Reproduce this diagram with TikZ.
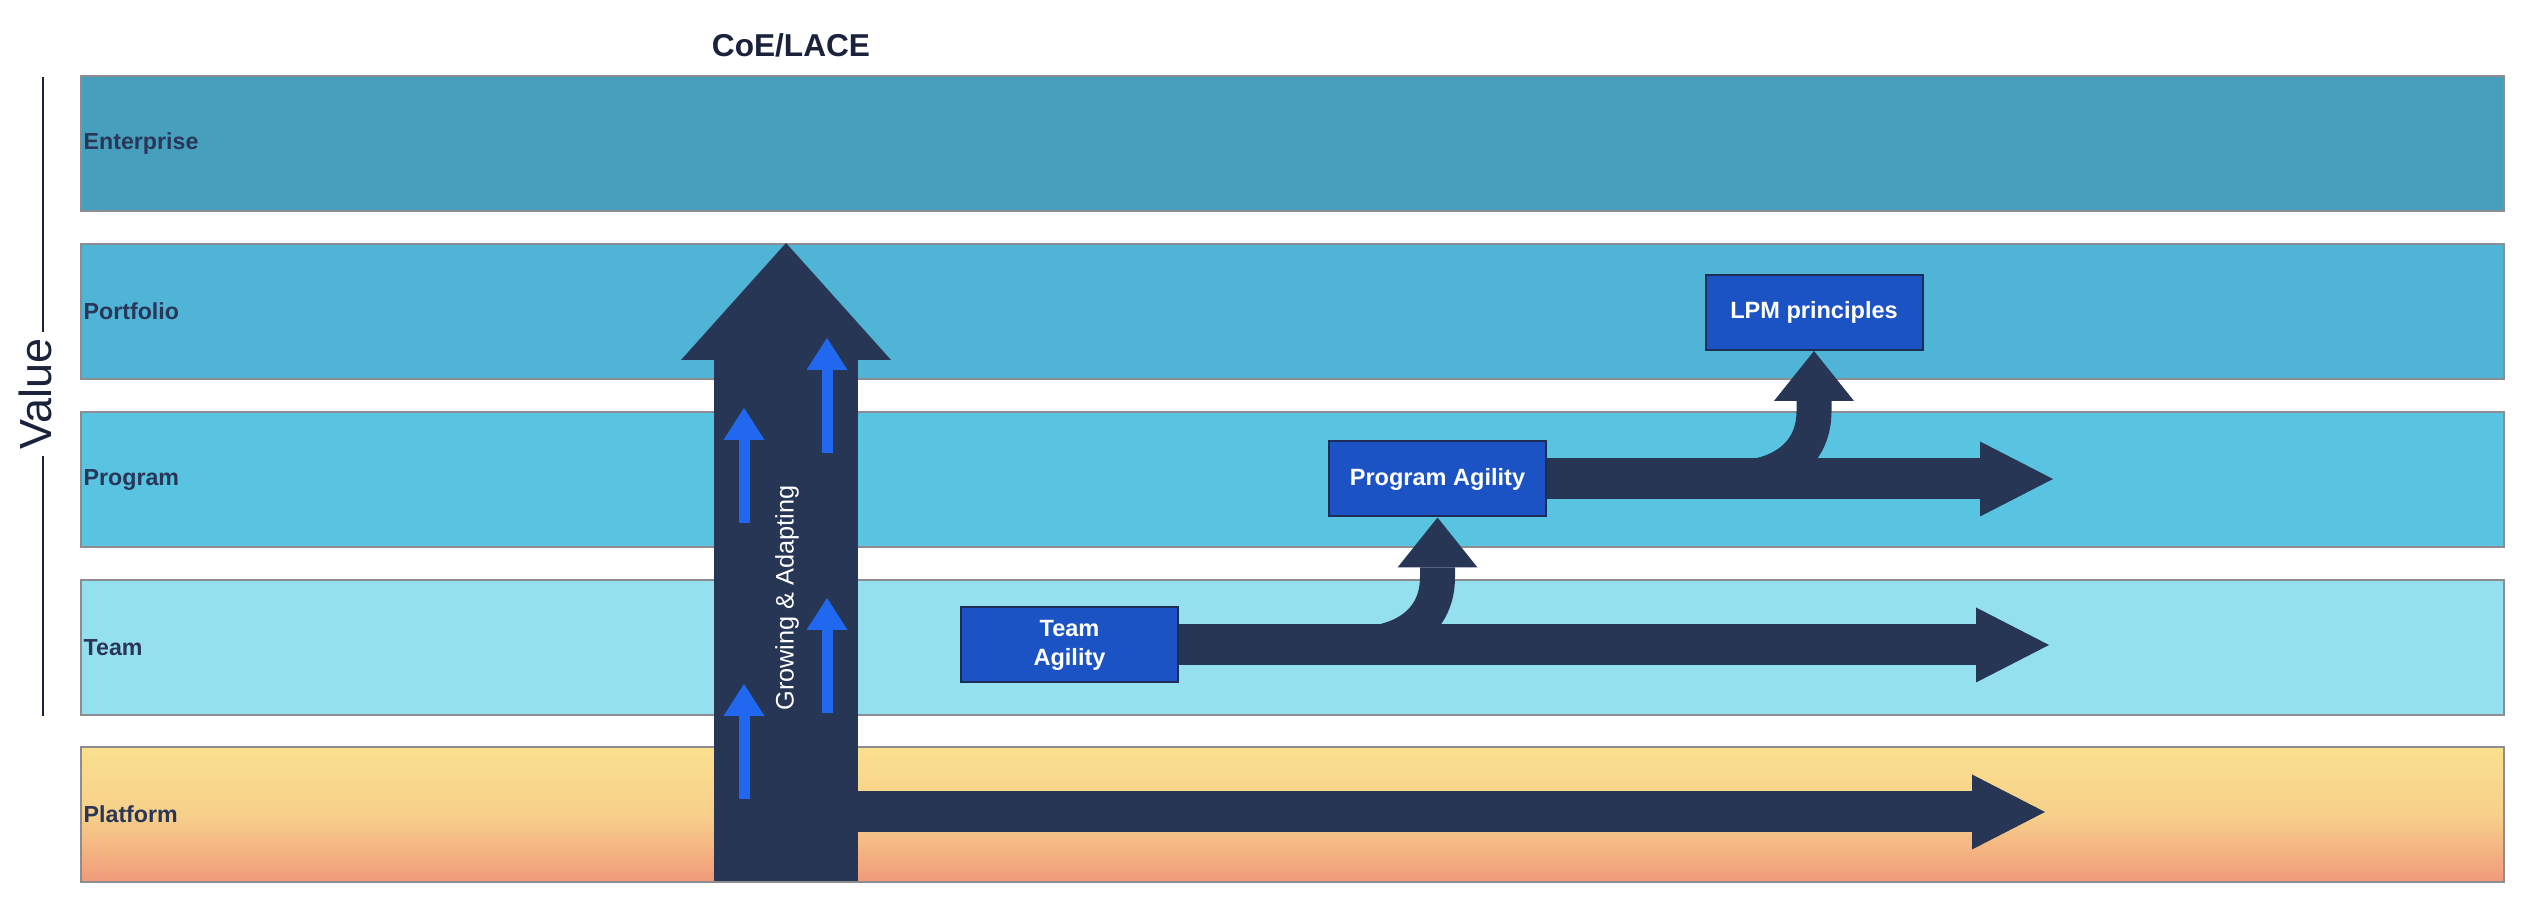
\documentclass[tikz,border=0pt]{standalone}
\usepackage{fontspec}
\setmainfont{Liberation Sans}
\usetikzlibrary{arrows.meta}
\definecolor{enterpriseBand}{RGB}{70,160,189}
\definecolor{portfolioBand}{RGB}{79,180,213}
\definecolor{programBand}{RGB}{89,195,226}
\definecolor{teamBand}{RGB}{148,224,239}
\definecolor{platformTop}{RGB}{250,224,142}
\definecolor{platformMid}{RGB}{247,208,138}
\definecolor{platformBottom}{RGB}{240,154,122}
\definecolor{bandEdge}{RGB}{140,140,145}
\definecolor{arrowNavy}{RGB}{40,54,85}
\definecolor{boxBlue}{RGB}{27,82,196}
\definecolor{boxEdge}{RGB}{30,45,85}
\definecolor{growBlue}{RGB}{33,104,241}
\definecolor{layerInk}{RGB}{42,54,88}
\definecolor{titleInk}{RGB}{26,34,60}

\tikzset{
  band/.style={draw=bandEdge,line width=0.2mm,anchor=north west,minimum width=242.3mm,minimum height=13.5mm,inner sep=0pt},
  layername/.style={anchor=west,inner sep=0.3mm,text=layerInk,font=\bfseries\fontsize{6.6}{8}\selectfont},
  agilitybox/.style={draw=boxEdge,fill=boxBlue,line width=0.2mm,text=white,align=center,minimum width=21.7mm,minimum height=7.5mm,inner sep=0pt,font=\bfseries\fontsize{6.7}{8.25}\selectfont},
  flow/.style={draw=arrowNavy,line width=4.1mm,-{Triangle[length=7.3mm,width=7.5mm,line width=0pt]}},
  riser/.style={draw=arrowNavy,line width=3.5mm,-{Triangle[length=5mm,width=8mm,line width=0pt]}},
  growth/.style={draw=growBlue,line width=1.1mm,-{Triangle[length=3.2mm,width=4.1mm,line width=0pt]}}
}

\begin{document}
\begin{tikzpicture}[x=0.1mm,y=-0.1mm]
  \useasboundingbox (0,0) rectangle (2534,924);

  % Layers
  \node[band,fill=enterpriseBand] (enterprise) at (80,75) {};
  \node[band,fill=portfolioBand] (portfolio) at (80,243) {};
  \node[band,fill=programBand] (program) at (80,411) {};
  \node[band,fill=teamBand] (team) at (80,579) {};
  \node[band,top color=platformTop,bottom color=platformBottom,middle color=platformMid] (platform) at (80,746) {};

  \node[layername] at (enterprise.west) {Enterprise};
  \node[layername] at (portfolio.west) {Portfolio};
  \node[layername] at (program.west) {Program};
  \node[layername] at (team.west) {Team};
  \node[layername] at (platform.west) {Platform};

  % CoE/LACE column
  \coordinate (platstart) at (786,812);
  \coordinate (platend) at (2045,812);
  \draw[flow] (platstart) -- (platend);

  \coordinate (coebottom) at (786,881);
  \coordinate (coetop) at (786,243);
  \draw[draw=arrowNavy,line width=14.4mm,-{Triangle[length=11.7mm,width=21mm,line width=0pt]}] (coebottom) -- (coetop);

  \foreach \x/\y in {744/799,744/523,827/713,827/453}
    \draw[growth] (\x,\y) -- ++(0,-115);

  \node[rotate=90,text=white,font=\fontsize{7.2}{9}\selectfont] (grow) at (787,598) {Growing \& Adapting};

  % Agility boxes
  \node[agilitybox] (teambox) at (1069.5,645) {Team\\Agility};
  \node[agilitybox] (progbox) at (1437.5,479) {Program Agility};
  \node[agilitybox] (lpmbox) at (1814,312.5) {LPM principles};

  % Flows
  \coordinate (teamend) at (2049,645);
  \coordinate (progend) at (2053,479);
  \draw[flow] (teambox.east) -- (teamend);
  \draw[flow] (progbox.east) -- (progend);

  \coordinate (teamfork) at (1350,645);
  \coordinate (progfork) at (1726.5,479);
  \draw[riser] (teamfork) .. controls +(55,0) and +(0,43) .. ++(87.5,-68) -- (progbox.south);
  \draw[riser] (progfork) .. controls +(55,0) and +(0,43) .. ++(87.5,-68) -- (lpmbox.south);

  % Titles
  \node[text=titleInk,font=\bfseries\fontsize{9}{11}\selectfont] (coe) at (791,45) {CoE/LACE};

  \coordinate (valuetop) at (43,77);
  \coordinate (valuebottom) at (43,716);
  \node[rotate=90,inner sep=0.5mm,text=titleInk,font=\fontsize{12.8}{15}\selectfont] (value) at (35,394) {Value};
  \draw[titleInk,line width=0.2mm] (valuetop) -- (valuetop |- value.east);
  \draw[titleInk,line width=0.2mm] (valuebottom |- value.west) -- (valuebottom);
\end{tikzpicture}
\end{document}
